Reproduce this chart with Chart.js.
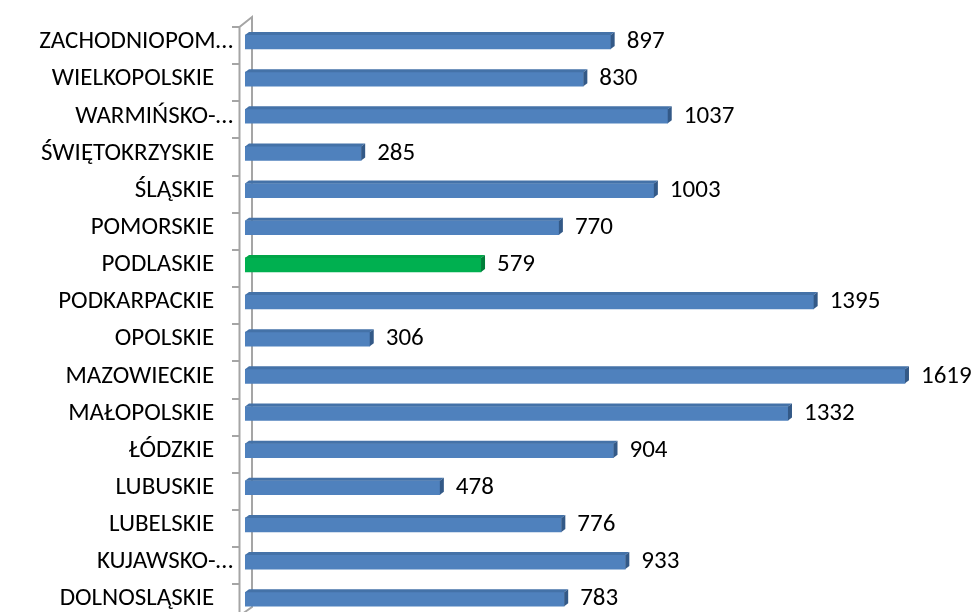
<!DOCTYPE html>
<html>
<head>
<meta charset="utf-8">
<script src="https://cdn.jsdelivr.net/npm/chart.js@4/dist/chart.umd.min.js"></script>
<style>
  html, body { margin: 0; padding: 0; background: #fff; overflow: hidden; }
  #wrap { width: 976px; height: 620px; }
</style>
</head>
<body>
<div id="wrap"><canvas id="chart" width="976" height="620"></canvas></div>
<script>
// dane
const categories = [
  'ZACHODNIOPOM…', 'WIELKOPOLSKIE', 'WARMIŃSKO-…', 'ŚWIĘTOKRZYSKIE',
  'ŚLĄSKIE', 'POMORSKIE', 'PODLASKIE', 'PODKARPACKIE', 'OPOLSKIE',
  'MAZOWIECKIE', 'MAŁOPOLSKIE', 'ŁÓDZKIE', 'LUBUSKIE', 'LUBELSKIE',
  'KUJAWSKO-…', 'DOLNOSLĄSKIE'
];
const values = [897, 830, 1037, 285, 1003, 770, 579, 1395, 306, 1619, 1332, 904, 478, 776, 933, 783];
const highlighted = 'PODLASKIE';

const FONT = 'Calibri, Carlito, Lato, sans-serif';
const FONT_SIZE = 25;
const DEPTH_X = 4, DEPTH_Y = 3;

function faceColors(label) {
  if (label === highlighted) return { front: '#00B050', top: '#00A548', side: '#007F3A' };
  return { front: '#4F81BD', top: '#4472A8', side: '#335987' };
}

// sciana i znaczniki osi
const wallPlugin = {
  id: 'wall',
  beforeDatasetsDraw(chart) {
    const ctx = chart.ctx;
    const y = chart.scales.y;
    const band = y.getPixelForValue(1) - y.getPixelForValue(0);
    const front = 239.5, back = 252;
    const top = y.getPixelForValue(0) - band / 2 + 3.6;
    ctx.save();
    ctx.strokeStyle = '#A5A5A5';
    ctx.lineWidth = 2;
    ctx.beginPath();
    ctx.moveTo(front, chart.height);
    ctx.lineTo(front, top);
    ctx.lineTo(back, top - 10);
    ctx.lineTo(back, 607);
    ctx.lineTo(front + 4, 613);
    ctx.stroke();
    for (let i = 0; i <= categories.length; i++) {
      const ty = Math.round(top + i * band);
      ctx.beginPath();
      ctx.moveTo(232, ty);
      ctx.lineTo(front, ty);
      ctx.stroke();
    }
    ctx.restore();
  }
};

// efekt 3D i etykiety wartości
const barPlugin = {
  id: 'bar3d',
  afterDatasetsDraw(chart) {
    const ctx = chart.ctx;
    const meta = chart.getDatasetMeta(0);
    ctx.save();
    meta.data.forEach((bar, i) => {
      const c = faceColors(categories[i]);
      const x0 = bar.base, x1 = bar.x;
      const yt = bar.y - bar.height / 2, yb = bar.y + bar.height / 2;
      ctx.fillStyle = c.top;
      ctx.beginPath();
      ctx.moveTo(x0, yt);
      ctx.lineTo(x0 + DEPTH_X, yt - DEPTH_Y);
      ctx.lineTo(x1 + DEPTH_X, yt - DEPTH_Y);
      ctx.lineTo(x1, yt);
      ctx.closePath();
      ctx.fill();
      ctx.fillStyle = c.side;
      ctx.beginPath();
      ctx.moveTo(x1, yt);
      ctx.lineTo(x1 + DEPTH_X, yt - DEPTH_Y);
      ctx.lineTo(x1 + DEPTH_X, yb - DEPTH_Y);
      ctx.lineTo(x1, yb);
      ctx.closePath();
      ctx.fill();

      ctx.fillStyle = '#000';
      ctx.font = FONT_SIZE + 'px ' + FONT;
      ctx.textAlign = 'left';
      ctx.textBaseline = 'middle';
      ctx.fillText(String(values[i]), x1 + 16, bar.y);
    });
    ctx.restore();
  }
};

const ctx = document.getElementById('chart').getContext('2d');
new Chart(ctx, {
  type: 'bar',
  data: {
    labels: categories,
    datasets: [{
      data: values,
      backgroundColor: categories.map(c => faceColors(c).front),
      borderWidth: 0,
      barThickness: 14
    }]
  },
  options: {
    indexAxis: 'y',
    responsive: false,
    animation: false,
    devicePixelRatio: 1,
    layout: { padding: { left: 0, right: 38, top: 23.4, bottom: 2.2 } },
    plugins: { legend: { display: false }, tooltip: { enabled: false } },
    scales: {
      x: { display: false, min: 0, max: 1700 },
      y: {
        afterFit(scale) {
          scale.width = 245;
          scale.paddingTop = 0;
          scale.paddingBottom = 0;
        },
        grid: { display: false, drawTicks: false },
        border: { display: false },
        ticks: {
          padding: 12,
          color: '#000',
          font: { family: FONT, size: FONT_SIZE },
          autoSkip: false,
          callback(v, i) {
            const label = categories[i];
            return label.endsWith('…') ? label : label + '\u2002\u2005';
          }
        }
      }
    }
  },
  plugins: [wallPlugin, barPlugin]
});
</script>
</body>
</html>
